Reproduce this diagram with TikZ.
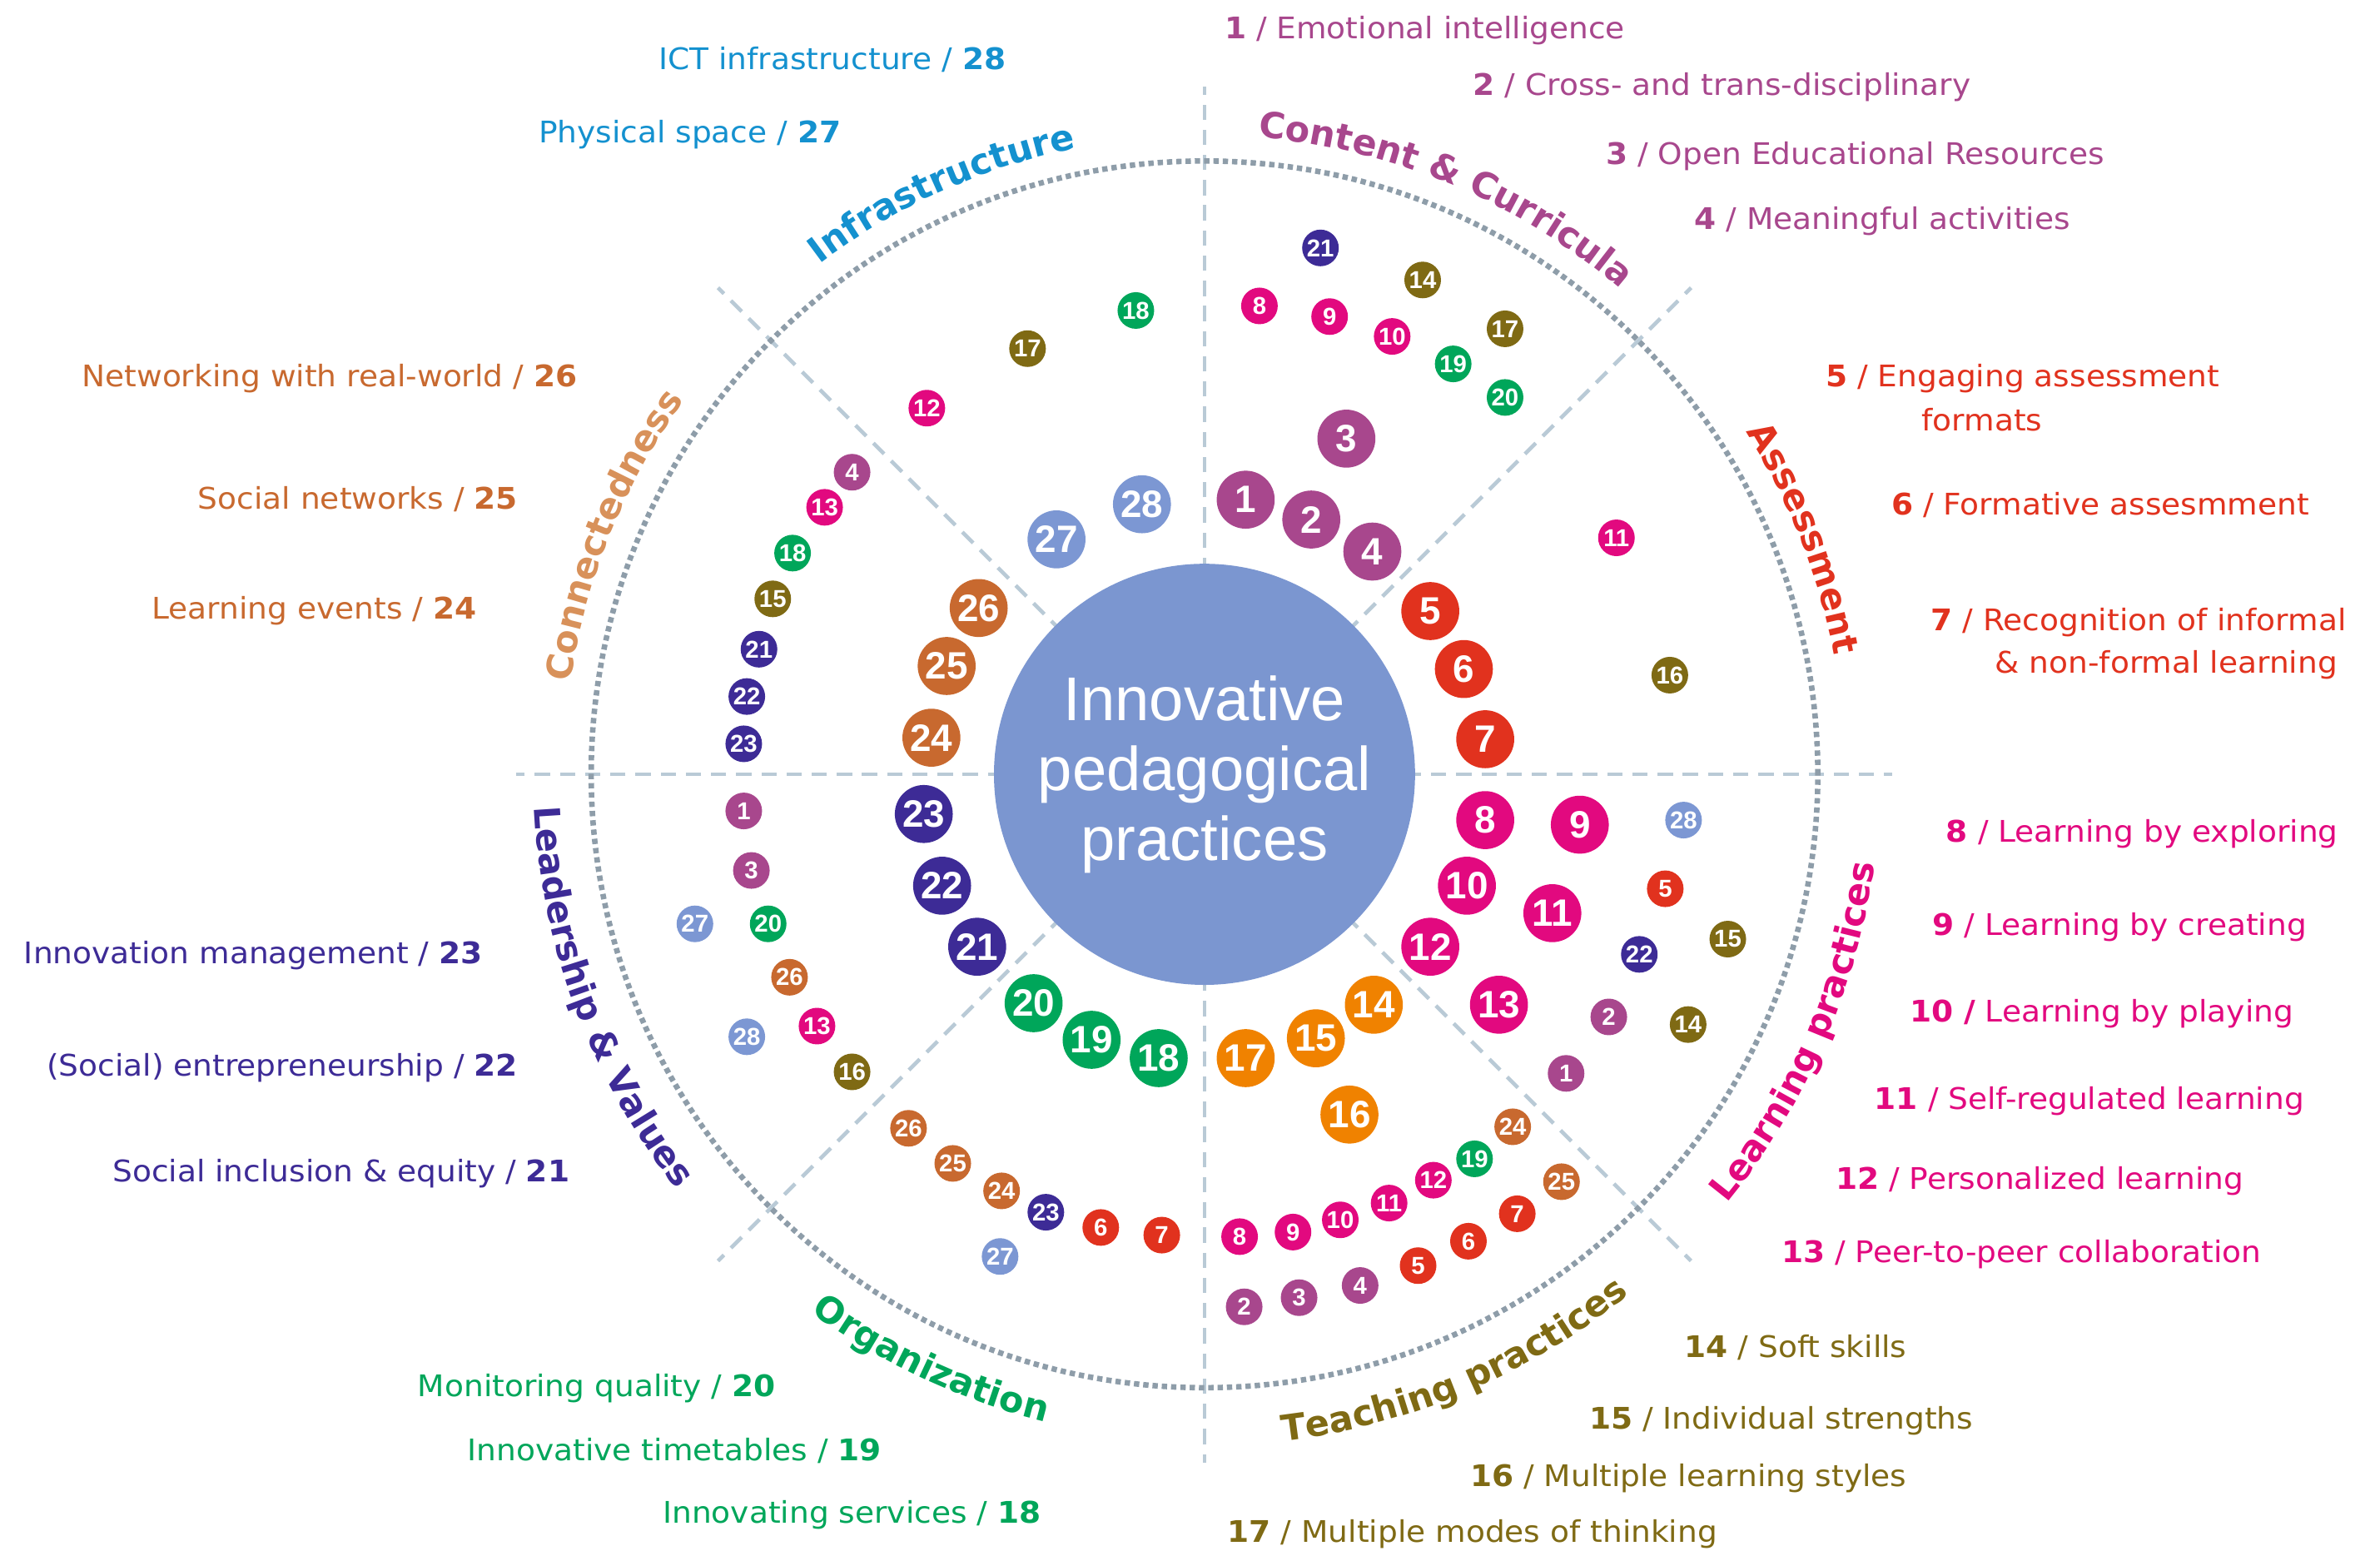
\documentclass[tikz,border=0pt]{standalone}
\usepackage{fontspec}
\setmainfont{DejaVu Sans}
\newfontfamily\lblfont[FakeStretch=1.05]{DejaVu Sans}
\newfontfamily\arialf{Liberation Sans}
\definecolor{cPur}{HTML}{A8478D}
\definecolor{cRed}{HTML}{E1321E}
\definecolor{cMag}{HTML}{E2097F}
\definecolor{cOli}{HTML}{7F6A14}
\definecolor{cOra}{HTML}{F08200}
\definecolor{cGrn}{HTML}{00A65A}
\definecolor{cInd}{HTML}{3D2B96}
\definecolor{cBrn}{HTML}{C8692F}
\definecolor{cCon}{HTML}{D8915A}
\definecolor{cLbl}{HTML}{7C97D3}
\definecolor{cInf}{HTML}{1491CF}
\definecolor{cCen}{HTML}{7B96D0}
\definecolor{cAxis}{HTML}{B9CAD6}
\definecolor{cRing}{HTML}{8E9DA9}
\newcommand\mycatf{\fontsize{23.5}{24}\selectfont\bfseries}
\newcommand\BigC[4]{\node[bigc,fill=#1] (#2) at (#3) {#4};}
\newcommand\SmallC[4]{\node[smc,fill=#1] (#2) at (#3) {#4};}
\newlength\arcW
\newlength\arcS
\newlength\chW
% Prepares (outside the picture) the letter nodes of a curved label.
% #1 name, #2 colour, #3 baseline radius, #4 middle angle, #5 -1 clockwise / 1 counter-clockwise, #6 characters
\newcommand\arcprep[6]{%
  \global\arcW=0pt\relax
  \foreach \mych in {#6}{\settowidth{\chW}{\mycatf\mych}\global\advance\arcW by \chW\relax}%
  \global\arcS=0pt\relax
  \expandafter\gdef\csname arcn@#1\endcsname{}%
  \foreach \mych in {#6}{%
    \settowidth{\chW}{\mycatf\mych}%
    \pgfmathsetmacro\arcoff{(\arcS+0.5*\chW-0.5*\arcW)/#3*57.29578}%
    \pgfmathsetmacro\arcang{#4+(#5)*\arcoff}%
    \pgfmathsetmacro\arcrot{\arcang+(#5)*90}%
    \expandafter\xdef\csname arcn@#1\endcsname{%
      \unexpanded\expandafter\expandafter\expandafter{\csname arcn@#1\endcsname}%
      \noexpand\node[arcch, rotate=\arcrot, text=#2] at ([shift={(\arcang:#3)}]C) {\unexpanded\expandafter{\mych}};}%
    \global\advance\arcS by \chW\relax
  }%
}
\begin{document}%
\arcprep{content}{cPur}{419}{67.3}{-1}{C,o,n,t,e,n,t,~,\&,~,C,u,r,r,i,c,u,l,a}%
\arcprep{infra}{cInf}{419}{114.3}{-1}{I,n,f,r,a,s,t,r,u,c,t,u,r,e}%
\arcprep{assess}{cRed}{420}{21.5}{-1}{A,s,s,e,s,s,m,e,n,t}%
\arcprep{connect}{cCon}{420}{158}{-1}{C,o,n,n,e,c,t,e,d,n,e,s,s}%
\arcprep{lead}{cInd}{440}{200.5}{1}{L,e,a,d,e,r,s,h,i,p,~,\&,~,V,a,l,u,e,s}%
\arcprep{orga}{cGrn}{437}{245}{1}{O,r,g,a,n,i,z,a,t,i,o,n}%
\arcprep{teach}{cOli}{440}{293}{1}{T,e,a,c,h,i,n,g,~,p,r,a,c,t,i,c,e,s}%
\arcprep{learn}{cMag}{443}{336.5}{1}{L,e,a,r,n,i,n,g,~,p,r,a,c,t,i,c,e,s}%
\begin{tikzpicture}[x=1pt,y=1pt,
 axis/.style={draw=cAxis, line width=2.5pt, dash pattern=on 10pt off 6.5pt},
 ring/.style={draw=cRing, line width=3.6pt, dash pattern=on 3.5pt off 2.6pt},
 bigc/.style={circle, minimum size=38pt, inner sep=0pt, text=white, font=\arialf\bfseries\fontsize{25}{25}\selectfont},
 smc/.style={circle, minimum size=24pt, inner sep=0pt, text=white, font=\arialf\bfseries\fontsize{16}{16}\selectfont},
 lbl/.style={inner sep=0pt, font=\lblfont\fontsize{19.5}{22}\selectfont},
 arcch/.style={anchor=base, inner sep=0pt, font=\mycatf},
]
\useasboundingbox (3.5,-2.5) rectangle (1563.5,-1018.5);
\coordinate (C) at (793,-510);
% spokes and ring
\foreach \a in {0,45,...,315} \path[axis] (C) -- ++(\a:451);
\draw[ring] (C) circle[radius=402];
% core
\node[circle, fill=cCen, minimum size=276pt, inner sep=0pt] (core) at (C) {};
\node[text=white, align=center, inner sep=0pt, font=\arialf\fontsize{40.5}{45.8}\selectfont] (coretext) at (793,-510) {Innovative\\pedagogical\\practices};
% category labels along the ring
\csname arcn@content\endcsname
\csname arcn@infra\endcsname
\csname arcn@assess\endcsname
\csname arcn@connect\endcsname
\csname arcn@lead\endcsname
\csname arcn@orga\endcsname
\csname arcn@teach\endcsname
\csname arcn@learn\endcsname
% big circles
\BigC{cPur}{b3}{886,-290}{3}
\BigC{cPur}{b1}{820,-330}{1}
\BigC{cPur}{b2}{863,-343}{2}
\BigC{cPur}{b4}{903,-364}{4}
\BigC{cRed}{b5}{941,-403}{5}
\BigC{cRed}{b6}{963,-441}{6}
\BigC{cRed}{b7}{977,-487}{7}
\BigC{cMag}{b8}{977,-540}{8}
\BigC{cMag}{b9}{1039,-543}{9}
\BigC{cMag}{b10}{965,-583}{10}
\BigC{cMag}{b11}{1021,-601}{11}
\BigC{cMag}{b12}{941,-623}{12}
\BigC{cMag}{b13}{986,-661}{13}
\BigC{cOra}{b14}{904,-661}{14}
\BigC{cOra}{b15}{866,-683}{15}
\BigC{cOra}{b17}{820,-696}{17}
\BigC{cOra}{b16}{888,-733}{16}
\BigC{cGrn}{b18}{763,-696}{18}
\BigC{cGrn}{b19}{719,-684}{19}
\BigC{cGrn}{b20}{681,-660}{20}
\BigC{cInd}{b21}{644,-623}{21}
\BigC{cInd}{b22}{621,-583}{22}
\BigC{cInd}{b23}{609,-536}{23}
\BigC{cBrn}{b24}{614,-486}{24}
\BigC{cBrn}{b25}{624,-439}{25}
\BigC{cBrn}{b26}{645,-401}{26}
\BigC{cLbl}{b27}{696,-356}{27}
\BigC{cLbl}{b28}{752,-333}{28}
% small circles: content sector
\SmallC{cInd}{sa21}{869,-165}{21}
\SmallC{cOli}{sa14}{936,-186}{14}
\SmallC{cMag}{sa8}{829,-203}{8}
\SmallC{cMag}{sa9}{875,-210}{9}
\SmallC{cMag}{sa10}{916,-223}{10}
\SmallC{cOli}{sa17}{990,-218}{17}
\SmallC{cGrn}{sa19}{956,-241}{19}
\SmallC{cGrn}{sa20}{990,-263}{20}
% assessment sector
\SmallC{cMag}{sb11}{1063,-355}{11}
\SmallC{cOli}{sb16}{1098,-445}{16}
% learning sector
\SmallC{cLbl}{sc28}{1107,-540}{28}
\SmallC{cRed}{sc5}{1095,-585}{5}
\SmallC{cInd}{sc22}{1078,-628}{22}
\SmallC{cOli}{sc15}{1136,-618}{15}
\SmallC{cPur}{sc2}{1058,-669}{2}
\SmallC{cOli}{sc14}{1110,-674}{14}
\SmallC{cPur}{sc1}{1030,-706}{1}
% teaching sector
\SmallC{cBrn}{sd24}{995,-741}{24}
\SmallC{cGrn}{sd19}{970,-762}{19}
\SmallC{cBrn}{sd25}{1027,-777}{25}
\SmallC{cMag}{sd12}{943,-776}{12}
\SmallC{cMag}{sd11}{914,-791}{11}
\SmallC{cRed}{sd7}{998,-798}{7}
\SmallC{cMag}{sd10}{882,-802}{10}
\SmallC{cMag}{sd9}{851,-810}{9}
\SmallC{cMag}{sd8}{816,-813}{8}
\SmallC{cRed}{sd6}{966,-816}{6}
\SmallC{cRed}{sd5}{933,-832}{5}
\SmallC{cPur}{sd4}{895,-845}{4}
\SmallC{cPur}{sd3}{855,-853}{3}
\SmallC{cPur}{sd2}{819,-859}{2}
% organization sector
\SmallC{cBrn}{se26}{599,-742}{26}
\SmallC{cBrn}{se25}{628,-765}{25}
\SmallC{cBrn}{se24}{660,-783}{24}
\SmallC{cInd}{se23}{689,-797}{23}
\SmallC{cRed}{se6}{725,-807}{6}
\SmallC{cRed}{se7}{765,-812}{7}
\SmallC{cLbl}{se27}{659,-826}{27}
% leadership sector
\SmallC{cPur}{sf1}{491,-534}{1}
\SmallC{cPur}{sf3}{496,-573}{3}
\SmallC{cLbl}{sf27}{459,-608}{27}
\SmallC{cGrn}{sf20}{507,-608}{20}
\SmallC{cBrn}{sf26}{521,-643}{26}
\SmallC{cMag}{sf13}{539,-675}{13}
\SmallC{cLbl}{sf28}{493,-682}{28}
\SmallC{cOli}{sf16}{562,-705}{16}
% connectedness sector
\SmallC{cPur}{sg4}{562,-312}{4}
\SmallC{cMag}{sg13}{544,-335}{13}
\SmallC{cGrn}{sg18}{523,-365}{18}
\SmallC{cOli}{sg15}{510,-395}{15}
\SmallC{cInd}{sg21}{501,-428}{21}
\SmallC{cInd}{sg22}{493,-459}{22}
\SmallC{cInd}{sg23}{491,-490}{23}
% infrastructure sector
\SmallC{cMag}{sh12}{611,-270}{12}
\SmallC{cOli}{sh17}{677,-231}{17}
\SmallC{cGrn}{sh18}{748,-206}{18}
% outer labels: content
\node[lbl, text=cPur, anchor=base west] (t1) at (806,-28) {\textbf{1} / Emotional intelligence};
\node[lbl, text=cPur, anchor=base west] (t2) at (969,-65) {\textbf{2} / Cross- and trans-disciplinary};
\node[lbl, text=cPur, anchor=base west] (t3) at (1056,-110) {\textbf{3} / Open Educational Resources};
\node[lbl, text=cPur, anchor=base west] (t4) at (1114,-153) {\textbf{4} / Meaningful activities};
% assessment
\node[lbl, text=cRed, anchor=base west] (t5) at (1200,-256) {\textbf{5} / Engaging assessment};
\node[lbl, text=cRed, anchor=base west] (t5b) at (1263,-285) {formats};
\node[lbl, text=cRed, anchor=base west] (t6) at (1243,-340) {\textbf{6} / Formative assesmment};
\node[lbl, text=cRed, anchor=base west] (t7) at (1269,-416) {\textbf{7} / Recognition of informal};
\node[lbl, text=cRed, anchor=base west] (t7b) at (1311,-443.5) {\& non-formal learning};
% learning
\node[lbl, text=cMag, anchor=base west] (t8) at (1279,-554.5) {\textbf{8} / Learning by exploring};
\node[lbl, text=cMag, anchor=base west] (t9) at (1270,-615.5) {\textbf{9} / Learning by creating};
\node[lbl, text=cMag, anchor=base west] (t10) at (1255,-672.5) {\textbf{10 /} Learning by playing};
\node[lbl, text=cMag, anchor=base west] (t11) at (1232,-729.5) {\textbf{11} / Self-regulated learning};
\node[lbl, text=cMag, anchor=base west] (t12) at (1206.5,-782) {\textbf{12} / Personalized learning};
\node[lbl, text=cMag, anchor=base west] (t13) at (1171,-830) {\textbf{13} / Peer-to-peer collaboration};
% teaching
\node[lbl, text=cOli, anchor=base west] (t14) at (1107.5,-892) {\textbf{14} / Soft skills};
\node[lbl, text=cOli, anchor=base west] (t15) at (1045,-939) {\textbf{15} / Individual strengths};
\node[lbl, text=cOli, anchor=base west] (t16) at (967,-976.5) {\textbf{16} / Multiple learning styles};
\node[lbl, text=cOli, anchor=base west] (t17) at (808,-1013.5) {\textbf{17} / Multiple modes of thinking};
% organization
\node[lbl, text=cGrn, anchor=base east] (t20) at (512,-918) {Monitoring quality / \textbf{20}};
\node[lbl, text=cGrn, anchor=base east] (t19) at (581.5,-960) {Innovative timetables / \textbf{19}};
\node[lbl, text=cGrn, anchor=base east] (t18) at (686,-1001) {Innovating services / \textbf{18}};
% leadership
\node[lbl, text=cInd, anchor=base east] (t23) at (320,-634) {Innovation management / \textbf{23}};
\node[lbl, text=cInd, anchor=base east] (t22) at (343,-708) {(Social) entrepreneurship / \textbf{22}};
\node[lbl, text=cInd, anchor=base east] (t21) at (377,-777) {Social inclusion \& equity / \textbf{21}};
% connectedness
\node[lbl, text=cBrn, anchor=base east] (t26) at (382,-256) {Networking with real-world / \textbf{26}};
\node[lbl, text=cBrn, anchor=base east] (t25) at (343,-336) {Social networks / \textbf{25}};
\node[lbl, text=cBrn, anchor=base east] (t24) at (316,-408) {Learning events / \textbf{24}};
% infrastructure
\node[lbl, text=cInf, anchor=base east] (t28) at (663,-48) {ICT infrastructure / \textbf{28}};
\node[lbl, text=cInf, anchor=base east] (t27) at (555,-96) {Physical space / \textbf{27}};
\end{tikzpicture}%
\end{document}
